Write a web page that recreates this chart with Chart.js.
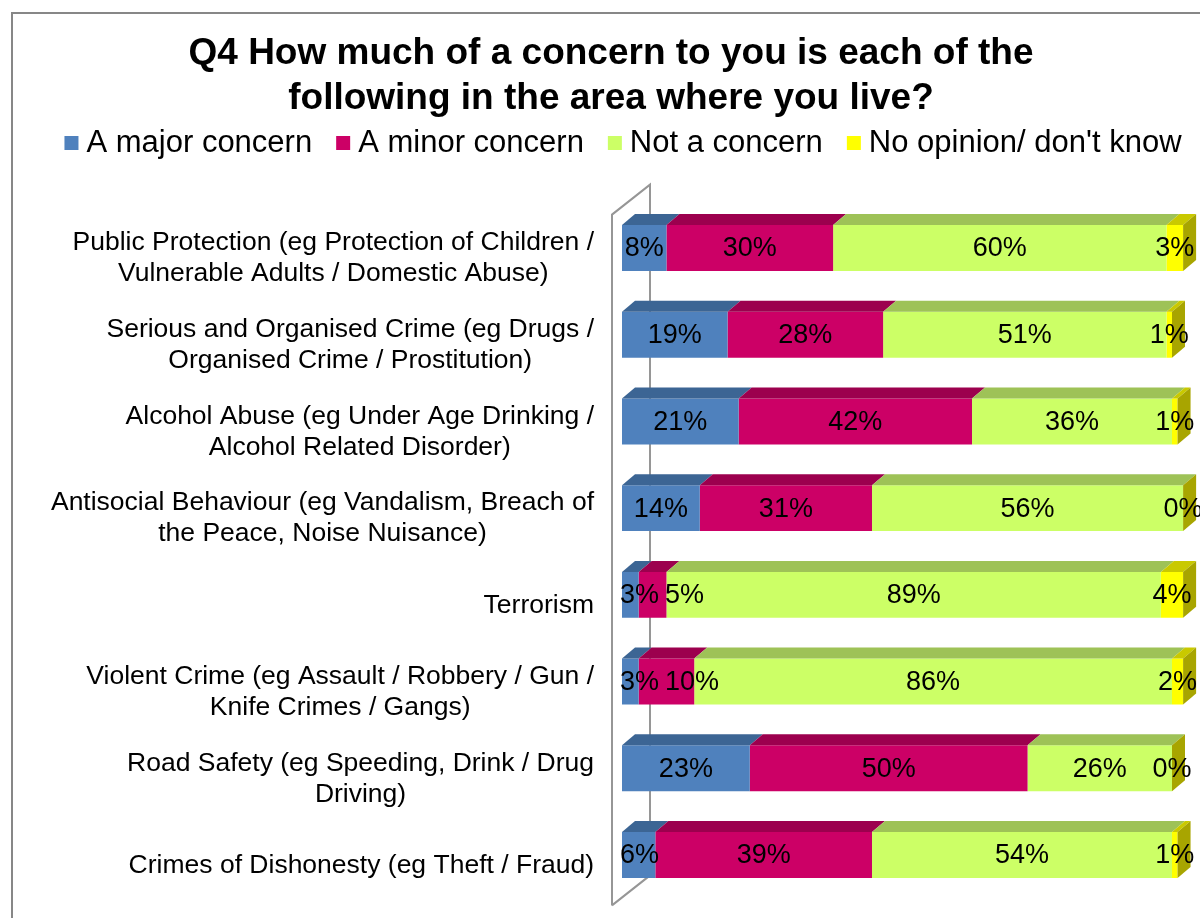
<!DOCTYPE html>
<html>
<head>
<meta charset="utf-8">
<title>Q4 Concerns</title>
<script src="https://cdn.jsdelivr.net/npm/chart.js@4.4.1/dist/chart.umd.min.js"></script>
<style>
  html, body { margin: 0; padding: 0; background: #fff; overflow: hidden; }
  #wrap { position: relative; width: 1200px; height: 918px; overflow: hidden; }
  #wrap canvas { position: absolute; left: 0; top: 0; }
</style>
</head>
<body>
<div id="wrap"><canvas id="chart" width="1222" height="918"></canvas></div>
<script>
// categories (wrapped onto two lines where the label is long)
const categories = [
    ['Public Protection (eg Protection of Children /', 'Vulnerable Adults / Domestic Abuse)'],
    ['Serious and Organised Crime (eg Drugs /', 'Organised Crime / Prostitution)'],
    ['Alcohol Abuse (eg Under Age Drinking /', 'Alcohol Related Disorder)'],
    ['Antisocial Behaviour (eg Vandalism, Breach of', 'the Peace, Noise Nuisance)'],
    ['Terrorism'],
    ['Violent Crime (eg Assault / Robbery / Gun /', 'Knife Crimes / Gangs)'],
    ['Road Safety (eg Speeding, Drink / Drug', 'Driving)'],
    ['Crimes of Dishonesty (eg Theft / Fraud)']
];

const seriesNames = ['A major concern', 'A minor concern', 'Not a concern', "No opinion/ don't know"];

// percentages per category
const majorConcern = [8, 19, 21, 14, 3, 3, 23, 6];
const minorConcern = [30, 28, 42, 31, 5, 10, 50, 39];
const notConcern   = [60, 51, 36, 56, 89, 86, 26, 54];
const noOpinion    = [3, 1, 1, 0, 4, 2, 0, 1];

const seriesValues = [majorConcern, minorConcern, notConcern, noOpinion];

const frontColours = ['#4F81BD', '#CC0066', '#CCFF66', '#FFFF00'];
const topColours   = ['#3C6594', '#9C004E', '#9EC257', '#C9C900'];
const sideColour   = '#A8A500';

const FONT = '"Liberation Sans", Arial, sans-serif';
const DEPTH_X = 13;   // bar depth offset
const DEPTH_Y = 11;
const LEGEND_CX = 623;
const LEGEND_Y = 143;

// outer border + the 3D side wall behind the bars
const framePlugin = {
    id: 'frame',
    beforeDraw(chart) {
        const ctx = chart.ctx;
        ctx.save();
        ctx.strokeStyle = '#878787';
        ctx.lineWidth = 2;
        ctx.strokeRect(12, 13, 3000, 3000);
        ctx.restore();
    },
    beforeDatasetsDraw(chart) {
        const { ctx, chartArea: a } = chart;
        const fx = a.left - 10, bx = fx + 38;
        const top = a.top + 10, bottom = a.bottom + 7;
        ctx.save();
        ctx.strokeStyle = '#969696';
        ctx.lineWidth = 2;
        ctx.beginPath();
        ctx.moveTo(fx, bottom);
        ctx.lineTo(fx, top);
        ctx.lineTo(bx, top - 30);
        ctx.lineTo(bx, bottom - 30);
        ctx.lineTo(fx, bottom);
        ctx.stroke();
        ctx.restore();
    }
};

// top faces of each segment and the right end face of the stack
const bar3dPlugin = {
    id: 'bar3d',
    afterDatasetsDraw(chart) {
        const ctx = chart.ctx;
        const last = chart.data.datasets.length - 1;
        ctx.save();
        chart.data.datasets.forEach((ds, di) => {
            chart.getDatasetMeta(di).data.forEach(bar => {
                const p = bar.getProps(['x', 'y', 'base', 'height'], true);
                const x0 = Math.min(p.x, p.base), x1 = Math.max(p.x, p.base);
                const top = p.y - p.height / 2, bottom = p.y + p.height / 2;
                if (x1 - x0 > 0) {
                    ctx.fillStyle = topColours[di];
                    ctx.beginPath();
                    ctx.moveTo(x0, top);
                    ctx.lineTo(x1, top);
                    ctx.lineTo(x1 + DEPTH_X, top - DEPTH_Y);
                    ctx.lineTo(x0 + DEPTH_X, top - DEPTH_Y);
                    ctx.closePath();
                    ctx.fill();
                }
                if (di === last) {
                    ctx.fillStyle = sideColour;
                    ctx.beginPath();
                    ctx.moveTo(x1, top);
                    ctx.lineTo(x1 + DEPTH_X, top - DEPTH_Y);
                    ctx.lineTo(x1 + DEPTH_X, bottom - DEPTH_Y);
                    ctx.lineTo(x1, bottom);
                    ctx.closePath();
                    ctx.fill();
                }
            });
        });
        ctx.restore();
    }
};

// legend row: small square, 8px gap, text, 24px to next item
const legendPlugin = {
    id: 'legendRow',
    afterDraw(chart) {
        const ctx = chart.ctx;
        ctx.save();
        ctx.font = '31px ' + FONT;
        ctx.textBaseline = 'middle';
        ctx.textAlign = 'left';
        const widths = seriesNames.map(n => ctx.measureText(n).width);
        const total = widths.reduce((s, w) => s + 22 + w, 0) + 24 * (seriesNames.length - 1);
        let x = LEGEND_CX - total / 2;
        seriesNames.forEach((name, i) => {
            ctx.fillStyle = frontColours[i];
            ctx.fillRect(x, LEGEND_Y - 7, 14, 14);
            ctx.fillStyle = '#000';
            ctx.fillText(name, x + 22, LEGEND_Y);
            x += 22 + widths[i] + 24;
        });
        ctx.restore();
    }
};

// category names (lines centred inside a right-aligned block) and value labels
const labelPlugin = {
    id: 'labels',
    afterDraw(chart) {
        const ctx = chart.ctx;
        const yScale = chart.scales.y;
        const area = chart.chartArea;
        ctx.save();
        ctx.fillStyle = '#000';
        ctx.textBaseline = 'middle';
        ctx.textAlign = 'center';

        ctx.font = '26.5px ' + FONT;
        categories.forEach((lines, i) => {
            const blockW = Math.max(...lines.map(l => ctx.measureText(l).width));
            const cx = area.left - 28 - blockW / 2;
            const cy = yScale.getPixelForValue(i) + 10.5;
            lines.forEach((l, k) => {
                ctx.fillText(l, cx, cy + (k - (lines.length - 1) / 2) * 31);
            });
        });

        ctx.font = '27px ' + FONT;
        categories.forEach((_, i) => {
            let prevRight = -Infinity;
            chart.data.datasets.forEach((ds, di) => {
                const bar = chart.getDatasetMeta(di).data[i];
                const { x, base, y } = bar.getProps(['x', 'base', 'y'], true);
                const text = ds.data[i] + '%';
                const w = ctx.measureText(text).width;
                let left = (x + base) / 2 - w / 2;
                left = Math.max(left, area.left - 2, prevRight + 6);
                ctx.fillText(text, left + w / 2, y + 1);
                prevRight = left + w;
            });
        });
        ctx.restore();
    }
};

Chart.defaults.font.family = FONT;
Chart.defaults.color = '#000';

new Chart(document.getElementById('chart'), {
    type: 'bar',
    data: {
        labels: categories,
        datasets: seriesNames.map((name, i) => ({
            label: name,
            data: seriesValues[i],
            backgroundColor: frontColours[i],
            borderWidth: 0,
            barPercentage: 0.53,
            categoryPercentage: 1
        }))
    },
    options: {
        indexAxis: 'y',
        responsive: false,
        animation: false,
        layout: { padding: { top: 14, bottom: 19.6 } },
        plugins: {
            title: {
                display: true,
                text: ['Q4 How much of a concern to you is each of the', 'following in the area where you live?'],
                font: { size: 37, weight: 'bold', lineHeight: 1.2 },
                color: '#000',
                padding: { top: 18, bottom: 83.8 }   // room for the legend row
            },
            legend: { display: false },
            tooltip: { enabled: false }
        },
        scales: {
            x: {
                display: false,
                stacked: true,
                min: 0,
                max: 108
            },
            y: {
                stacked: true,
                grid: { display: false },
                border: { display: false },
                ticks: { display: false },
                afterFit: s => { s.width = 622; }
            }
        }
    },
    plugins: [framePlugin, bar3dPlugin, legendPlugin, labelPlugin]
});
</script>
</body>
</html>
